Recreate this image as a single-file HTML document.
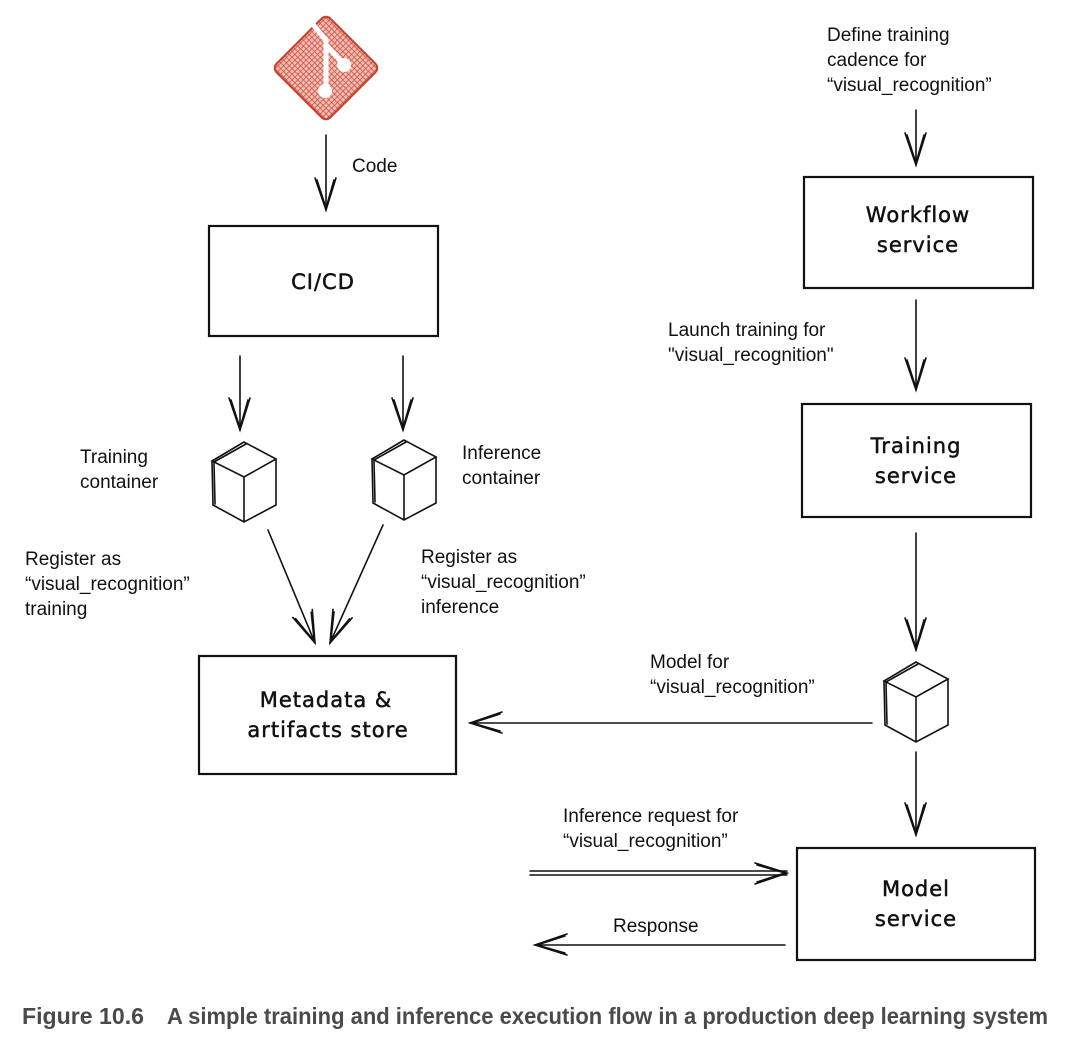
<!DOCTYPE html>
<html><head><meta charset="utf-8"><style>
html,body{margin:0;padding:0;background:#fff}
svg{display:block}
.t{font-family:"Liberation Sans",sans-serif;font-size:19px;fill:#111}
.h{font-family:"Comic Sans MS","DejaVu Sans",sans-serif;font-size:21px;fill:#111;text-anchor:middle;letter-spacing:1px;stroke:#111;stroke-width:0.5}
.ln{stroke:#111;stroke-width:1.6;fill:none;stroke-linecap:round}
.bx{stroke:#111;stroke-width:2.2;fill:none}
</style></head><body>
<svg width="1076" height="1046" viewBox="0 0 1076 1046" xmlns="http://www.w3.org/2000/svg">
<defs>
<pattern id="hat" width="4" height="4" patternUnits="userSpaceOnUse">
<rect width="4" height="4" fill="#eebfb6"/>
<path d="M0 0H4M0 0V4" stroke="#d24a37" stroke-width="1.5"/>
</pattern>
<g id="cube" class="ln" stroke-width="1.8">
<path d="M0 0 L-32 19 L0 35 L32 17 Z M-32 19 L-31 63 L0 80 L32 63 L32 17 M0 35 L0 80"/>
<path d="M2 2 L-30 20 M-30 21 L-29 62"/>
</g>
<g id="ad" class="ln"><path d="M-11 -32 L0 0 L10 -32"/><path d="M-9 -30 L0 -2 L8 -30"/></g>
</defs>

<g transform="translate(326,68) rotate(45)">
<rect x="-38" y="-38" width="76" height="76" rx="6" fill="url(#hat)" stroke="#c8402e" stroke-width="2"/>
</g>
<path d="M311 22 L326 40 L326 90 M326 45 L342 62" stroke="#fff" stroke-width="5" fill="none"/>
<circle cx="325" cy="91" r="7" fill="#fff"/><circle cx="344" cy="65" r="7" fill="#fff"/>

<path class="ln" d="M326 135 L326 210"/><use href="#ad" x="326" y="210"/>
<text class="t" x="352" y="172">Code</text>

<rect class="bx" x="209" y="226" width="229" height="110"/>
<text class="h" x="323" y="289">CI/CD</text>

<path class="ln" d="M240 356 L240 430"/><use href="#ad" x="240" y="430"/>
<path class="ln" d="M403 356 L403 430"/><use href="#ad" x="403" y="430"/>

<use href="#cube" x="244" y="442"/>
<use href="#cube" x="404" y="440"/>
<text class="t" x="80" y="463">Training</text><text class="t" x="80" y="488">container</text>
<text class="t" x="462" y="459">Inference</text><text class="t" x="462" y="484">container</text>

<path class="ln" d="M268 530 L315 643"/><use href="#ad" transform="translate(315,643) rotate(-22)"/>
<path class="ln" d="M383 525 L330 643"/><use href="#ad" transform="translate(330,643) rotate(24)"/>

<text class="t" x="25" y="565">Register as</text><text class="t" x="25" y="590">“visual_recognition”</text><text class="t" x="25" y="615">training</text>
<text class="t" x="421" y="563">Register as</text><text class="t" x="421" y="588">“visual_recognition”</text><text class="t" x="421" y="613">inference</text>

<rect class="bx" x="199" y="656" width="257" height="118"/>
<text class="h" x="326" y="707">Metadata &amp;</text>
<text class="h" x="328" y="737">artifacts store</text>

<text class="t" x="827" y="41">Define training</text><text class="t" x="827" y="66">cadence for</text><text class="t" x="827" y="91">“visual_recognition”</text>
<path class="ln" d="M916 110 L916 165"/><use href="#ad" x="916" y="165"/>
<rect class="bx" x="804" y="177" width="229" height="111"/>
<text class="h" x="918" y="222">Workflow</text><text class="h" x="918" y="252">service</text>

<text class="t" x="668" y="336">Launch training for</text><text class="t" x="668" y="361">"visual_recognition"</text>
<path class="ln" d="M916 300 L916 390"/><use href="#ad" x="916" y="390"/>
<rect class="bx" x="802" y="404" width="229" height="113"/>
<text class="h" x="916" y="453">Training</text><text class="h" x="916" y="483">service</text>

<path class="ln" d="M916 533 L916 650"/><use href="#ad" x="916" y="650"/>
<use href="#cube" x="916" y="662"/>

<path class="ln" d="M872 723 L470 723"/><use href="#ad" transform="translate(470,723) rotate(90)"/>
<text class="t" x="650" y="668">Model for</text><text class="t" x="650" y="693">“visual_recognition”</text>

<path class="ln" d="M916 752 L916 835"/><use href="#ad" x="916" y="835"/>
<rect class="bx" x="797" y="848" width="238" height="112"/>
<text class="h" x="916" y="896">Model</text><text class="h" x="916" y="926">service</text>

<text class="t" x="563" y="822">Inference request for</text><text class="t" x="563" y="847">“visual_recognition”</text>
<path class="ln" d="M530 871 L787 871 M530 875 L787 875"/><use href="#ad" transform="translate(787,873) rotate(-90)"/>

<text class="t" x="613" y="932">Response</text>
<path class="ln" d="M785 945 L535 945"/><use href="#ad" transform="translate(535,945) rotate(90)"/>

<text x="22" y="1024" font-family="Liberation Sans, sans-serif" font-weight="bold" font-size="23" fill="#4a4a4a" textLength="122" lengthAdjust="spacingAndGlyphs">Figure 10.6</text>
<text x="167" y="1024" font-family="Liberation Sans, sans-serif" font-weight="bold" font-size="23" fill="#4a4a4a" textLength="881" lengthAdjust="spacingAndGlyphs">A simple training and inference execution flow in a production deep learning system</text>
</svg>
</body></html>
